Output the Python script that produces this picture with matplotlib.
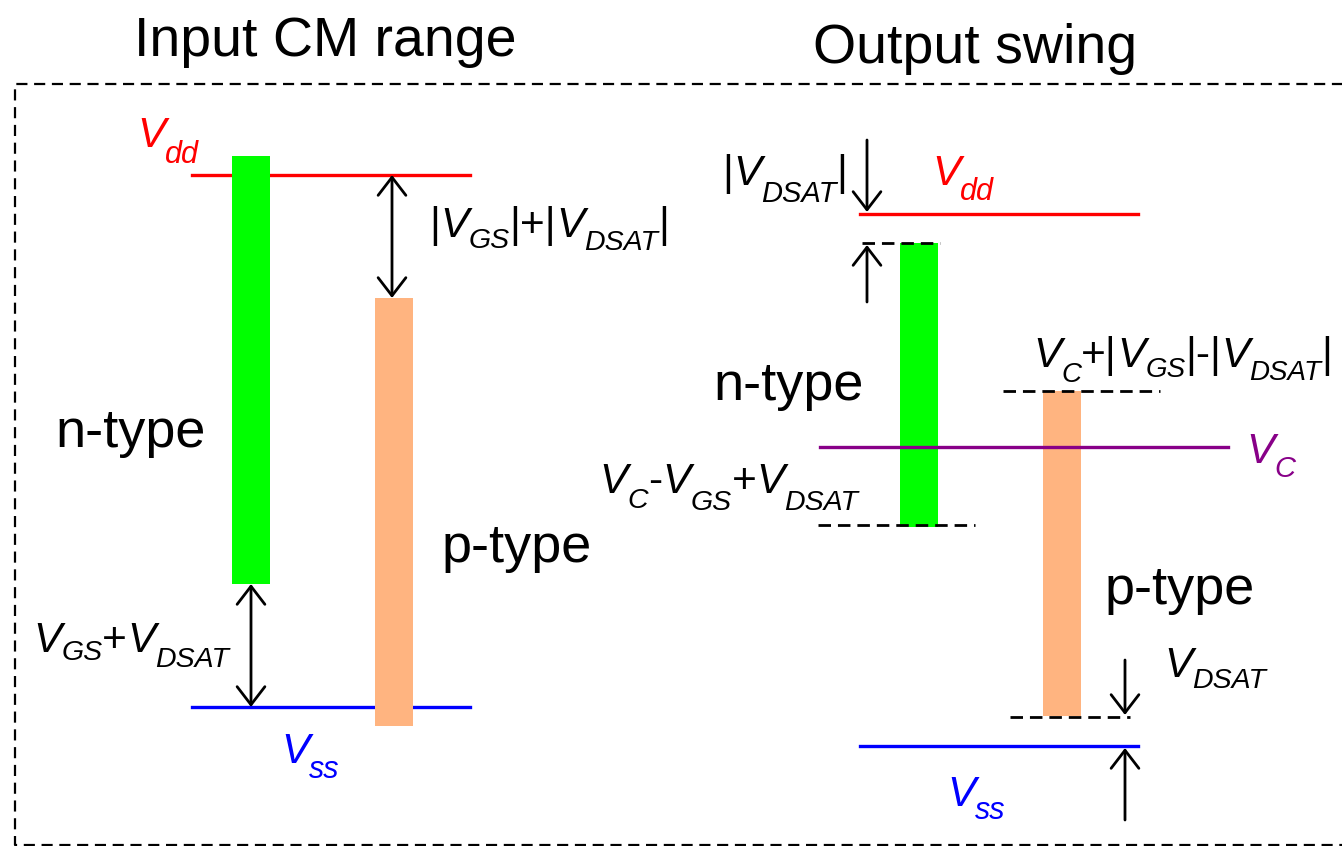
import matplotlib
matplotlib.use("Agg")
import matplotlib.pyplot as plt
from matplotlib.patches import Rectangle
from matplotlib.font_manager import FontProperties

plt.rcParams['font.family'] = ['Liberation Sans', 'DejaVu Sans']

# ---- data (diagram levels, in canvas units, y grows downward) ----
titles = ["Input CM range", "Output swing"]
title_x = [325, 975]
title_y = [42, 49]

# left panel (input CM range)
L_rail_x = [192, 470]
L_vdd, L_vss = 175, 707
L_bar_x = [232, 375]          # green, orange left edges
L_bar_w = 38
L_bar_top = [156, 298]
L_bar_bot = [584, 726]

# right panel (output swing)
R_rail_x = [860, 1138]
R_vdd, R_vss = 214, 746
R_vc, R_vc_x = 447, [820, 1228]
R_bar_x = [900, 1043]
R_bar_w = 38
R_bar_top = [243, 391]
R_bar_bot = [527, 716]
R_dash = [  # (x0, x1, y)
    (862, 940, 243),
    (818, 975, 525),
    (1003, 1160, 391),
    (1010, 1130, 717),
]

GREEN = "#00FF00"
ORANGE = "#FFB480"
RED = "#FF0000"
BLUE = "#0000FF"
PURPLE = "#880088"

# rich labels: (x, baseline, color, subsize, [(text, kind, subdrop)])
# kind: 'm' = main italic, 'r' = upright, 's' = italic subscript
labels = [
    (137, 147, RED, 22, [('V', 'm', 0), ('dd', 's', 16)]),
    (281, 763, BLUE, 22, [('V', 'm', 0), ('ss', 's', 15)]),
    (429, 237, 'black', 20.5, [('|', 'r', 0), ('V', 'm', 0), ('GS', 's', 11), ('|+|', 'r', 0),
                               ('V', 'm', 0), ('DSAT', 's', 13), ('|', 'r', 0)]),
    (33, 652, 'black', 20.5, [('V', 'm', 0), ('GS', 's', 8), ('+', 'r', 0),
                              ('V', 'm', 0), ('DSAT', 's', 15)]),
    (722, 185, 'black', 21, [('|', 'r', 0), ('V', 'm', 0), ('DSAT', 's', 17), ('|', 'r', 0)]),
    (932, 185, RED, 22, [('V', 'm', 0), ('dd', 's', 15)]),
    (1246, 463, PURPLE, 21, [('V', 'm', 0), ('C', 's', 14)]),
    (599, 493, 'black', 20.5, [('V', 'm', 0), ('C', 's', 15), ('-', 'r', 0), ('V', 'm', 0),
                               ('GS', 's', 17), ('+', 'r', 0), ('V', 'm', 0), ('DSAT', 's', 17)]),
    (1033, 367, 'black', 20, [('V', 'm', 0), ('C', 's', 15), ('+|', 'r', 0), ('V', 'm', 0),
                              ('GS', 's', 10), ('|-|', 'r', 0), ('V', 'm', 0), ('DSAT', 's', 13),
                              ('|', 'r', 0)]),
    (1164, 677, 'black', 20.5, [('V', 'm', 0), ('DSAT', 's', 11)]),
    (947, 806, BLUE, 22, [('V', 'm', 0), ('ss', 's', 13)]),
]
type_labels = [("n-type", 55, 433), ("p-type", 442, 548), ("n-type", 713, 386), ("p-type", 1105, 590)]

fig = plt.figure(figsize=(13.42, 8.46), dpi=100)
ax = fig.add_axes([0, 0, 1, 1])
ax.set_xlim(0, 1342)
ax.set_ylim(846, 0)
ax.axis('off')
renderer = fig.canvas.get_renderer()

MAIN = 30.5

def prop_for(kind, subsize):
    if kind == 'm':
        return FontProperties(family='Liberation Sans', style='italic', size=MAIN)
    if kind == 's':
        return FontProperties(family='Liberation Sans', style='italic', size=subsize)
    return FontProperties(family='Liberation Sans', style='normal', size=MAIN)

def advance(s, prop):
    w1, _, _ = renderer.get_text_width_height_descent('x' + s + 'x', prop, ismath=False)
    w0, _, _ = renderer.get_text_width_height_descent('xx', prop, ismath=False)
    return w1 - w0

def rich(x, y, color, subsize, parts):
    cur = x
    for s, kind, drop in parts:
        p = prop_for(kind, subsize)
        ax.text(cur, y + drop, s, fontproperties=p, color=color, ha='left', va='baseline')
        cur += advance(s, p)

# dashed border
ax.plot([1360, 15, 15, 1360], [84, 84, 845, 845], color='black', lw=1.6,
        ls=(0, (5, 3)), clip_on=False)

# titles
for t, x, y in zip(titles, title_x, title_y):
    ax.text(x, y, t, fontsize=40, ha='center', va='center')

def arrow(x, y0, y1, style):
    ax.annotate('', xy=(x, y1), xytext=(x, y0),
                arrowprops=dict(arrowstyle=style + ',head_length=0.65,head_width=0.5',
                                lw=2, color='black', shrinkA=0, shrinkB=0,
                                mutation_scale=20))

# ---- left panel ----
ax.plot(L_rail_x, [L_vdd, L_vdd], color=RED, lw=2.4)
ax.plot(L_rail_x, [L_vss, L_vss], color=BLUE, lw=2.4)
for x, t, b, c in zip(L_bar_x, L_bar_top, L_bar_bot, [GREEN, ORANGE]):
    ax.add_patch(Rectangle((x, t), L_bar_w, b - t, color=c, lw=0, zorder=3))
arrow(392, L_bar_top[1], L_vdd, '<->')
arrow(251, L_vss, L_bar_bot[0], '<->')

# ---- right panel ----
ax.plot(R_rail_x, [R_vdd, R_vdd], color=RED, lw=2.4)
ax.plot(R_rail_x, [R_vss, R_vss], color=BLUE, lw=2.4)
for x, t, b, c in zip(R_bar_x, R_bar_top, R_bar_bot, [GREEN, ORANGE]):
    ax.add_patch(Rectangle((x, t), R_bar_w, b - t, color=c, lw=0, zorder=1))
ax.plot(R_vc_x, [R_vc, R_vc], color=PURPLE, lw=2.4, zorder=2)
for x0, x1, y in R_dash:
    ax.plot([x0, x1], [y, y], color='black', lw=2, ls=(0, (4.5, 2.5)), zorder=3)

arrow(867, 140, R_vdd - 2, '->')
arrow(867, 302, R_bar_top[0] + 2, '->')
arrow(1125, 660, R_bar_bot[1] - 1, '->')
arrow(1125, 820, R_vss + 2, '->')

for lab in labels:
    rich(*lab)
for t, x, y in type_labels:
    ax.text(x, y, t, fontsize=39, ha='left', va='center')

fig.savefig('out.png', dpi=100)
